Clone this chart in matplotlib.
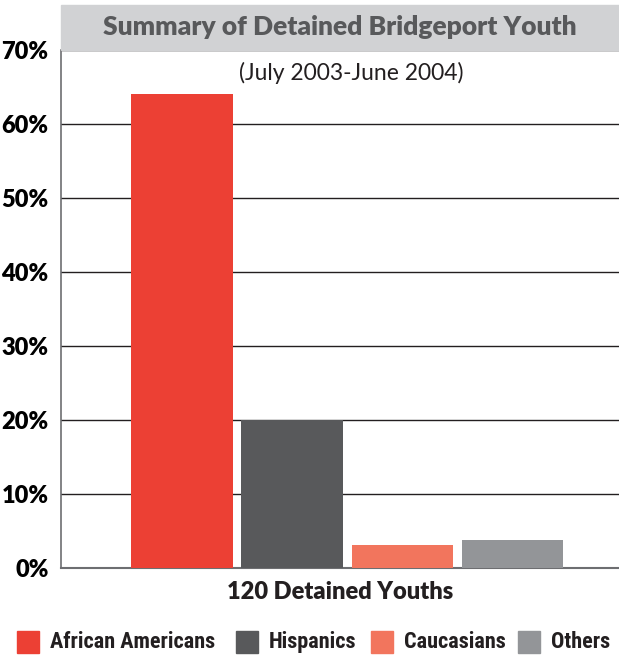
import matplotlib
matplotlib.use("Agg")
import matplotlib.pyplot as plt
from matplotlib.patches import Rectangle

categories = ["African Americans", "Hispanics", "Caucasians", "Others"]
values = [64, 20, 3.1, 3.8]
colors = ["#ec4034", "#58595b", "#f2755d", "#939598"]
yticks = [0, 10, 20, 30, 40, 50, 60, 70]
ytick_labels = ["0%", "10%", "20%", "30%", "40%", "50%", "60%", "70%"]
title = "Summary of Detained Bridgeport Youth"
subtitle = "(July 2003-June 2004)"
xlabel = "120 Detained Youths"

W, H = 619, 659
fig = plt.figure(figsize=(W / 100, H / 100), dpi=100)
fig.patch.set_facecolor("white")

left, right, top, bottom = 61, 619, 50, 568
ax = fig.add_axes([left / W, 1 - bottom / H, (right - left) / W, (bottom - top) / H])

x = list(range(len(categories)))
ax.bar(x, values, width=0.92, color=colors, zorder=3)
ax.set_xlim(-1.1, 3.97)
ax.set_ylim(0, 70)

ax.set_yticks(yticks)
ax.set_yticklabels(ytick_labels, fontsize=17, fontweight="heavy", family="Lato")
ax.tick_params(axis="y", length=0, pad=9)
ax.set_xticks([])
ax.grid(axis="y", color="#231f20", linewidth=1.0, zorder=1)
ax.spines["right"].set_visible(False)
ax.spines["top"].set_color("#231f20")
ax.spines["left"].set_color("#6d6e71")
ax.spines["bottom"].set_color("#6d6e71")
ax.spines["left"].set_linewidth(1.2)
ax.spines["bottom"].set_linewidth(1.5)

# title banner
fig.patches.append(Rectangle((left / W, 1 - top / H), (right - left) / W, 45 / H,
                             transform=fig.transFigure, color="#d1d2d4", zorder=0))
fig.text((left + right) / 2 / W, 1 - 27 / H, title, ha="center", va="center",
         fontsize=19, fontweight="heavy", color="#58595b", family="Lato")
ax.text(0.52, 0.955, subtitle, transform=ax.transAxes, ha="center", va="center",
        fontsize=16.5, color="#231f20", family="Lato")
fig.text(340 / W, 1 - 592 / H, xlabel, ha="center", va="center",
         fontsize=17, fontweight="heavy", color="#231f20", family="Lato")

# legend row: colour key followed by its label
key_x = [17, 236, 371, 518]
key_w, key_h, key_top = 22, 22, 631
legend_font = ["Roboto Condensed", "DejaVu Sans"]
for kx, c, name in zip(key_x, colors, categories):
    fig.patches.append(Rectangle((kx / W, 1 - (key_top + key_h) / H), key_w / W, key_h / H,
                                 transform=fig.transFigure, color=c))
    fig.text((kx + key_w + 11) / W, 1 - (key_top + key_h / 2) / H, name,
             ha="left", va="center", fontsize=16, fontweight="bold",
             color="#231f20", family=legend_font)

fig.savefig("out.png", dpi=100)
